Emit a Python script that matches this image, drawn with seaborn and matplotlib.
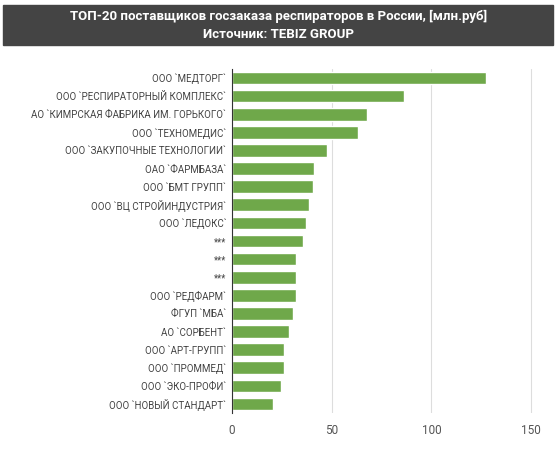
import matplotlib
matplotlib.use("Agg")
import matplotlib.pyplot as plt
import seaborn as sns
import pandas as pd
from matplotlib.patches import Rectangle

companies = ["ООО `МЕДТОРГ`", "ООО `РЕСПИРАТОРНЫЙ КОМПЛЕКС`", "АО `КИМРСКАЯ ФАБРИКА ИМ. ГОРЬКОГО`",
             "ООО `ТЕХНОМЕДИС`", "ООО `ЗАКУПОЧНЫЕ ТЕХНОЛОГИИ`", "ОАО `ФАРМБАЗА`", "ООО `БМТ ГРУПП`",
             "ООО `ВЦ СТРОЙИНДУСТРИЯ`", "ООО `ЛЕДОКС`", "***", "***", "***", "ООО `РЕДФАРМ`",
             "ФГУП `МБА`", "АО `СОРБЕНТ`", "ООО `АРТ-ГРУПП`", "ООО `ПРОММЕД`", "ООО `ЭКО-ПРОФИ`",
             "ООО `НОВЫЙ СТАНДАРТ`"]
values = [127.5, 86.5, 67.5, 63, 47.7, 41, 40.7, 38.5, 37, 35.5, 32.3, 32.3, 32.3, 30.7,
          28.6, 26.3, 26.3, 24.6, 20.6]
ticks = [0, 50, 100, 150]

df = pd.DataFrame({"idx": [str(i) for i in range(len(companies))], "value": values})
sns.set_theme(style="white")
plt.rcParams["font.family"] = ["Roboto", "DejaVu Sans"]

fig = plt.figure(figsize=(5.57, 4.54), dpi=100)
ax = fig.add_axes([232/557, 1-413/454, (545-232)/557, (413-69)/454])
sns.barplot(data=df, x="value", y="idx", color="#6fa84a", saturation=1, ax=ax, width=0.7)
ax.set_yticks(range(len(companies)))
ax.set_yticklabels(companies)
ax.set_xlim(0, 157)
ax.set_xticks(ticks)
ax.xaxis.grid(True, color="#dddddd", lw=0.8)
ax.set_axisbelow(True)
for s in ["top", "right", "bottom"]:
    ax.spines[s].set_visible(False)
ax.spines["left"].set_color("#333333")
ax.spines["left"].set_linewidth(0.8)
ax.set_xlabel(""); ax.set_ylabel("")
ax.tick_params(axis="y", labelsize=7, colors="#444444", length=0, pad=4)
ax.tick_params(axis="x", labelsize=8.5, colors="#555555", length=0, pad=8)

fig.patches.append(Rectangle((3/557, 1-45/454), 550/557, 40/454, transform=fig.transFigure,
                             color="#444444", zorder=0))
fig.text(0.5, 1-16/454, "ТОП-20 поставщиков госзаказа респираторов в России, [млн.руб]",
         ha="center", va="center", color="white", fontsize=9.5, fontweight="bold")
fig.text(0.5, 1-34/454, "Источник: TEBIZ GROUP", ha="center", va="center",
         color="white", fontsize=9.5, fontweight="bold")
fig.savefig("out.png", dpi=100, facecolor="white")
